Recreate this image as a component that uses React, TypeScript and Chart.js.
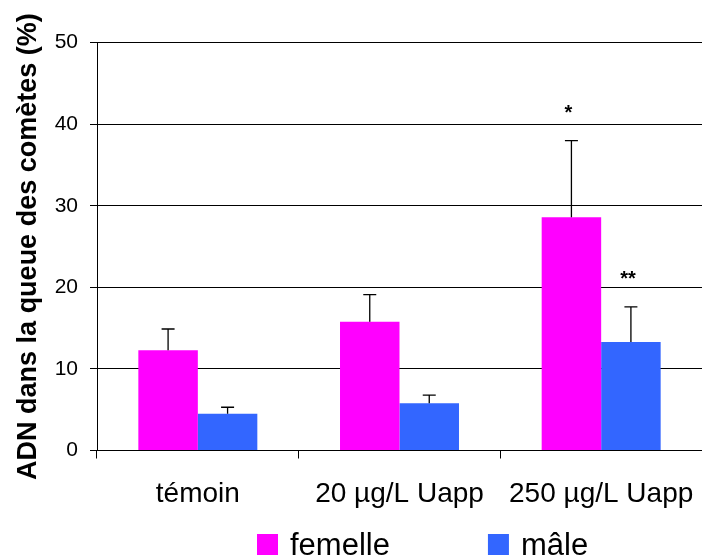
import React, { useEffect, useRef } from 'react';
import { Chart, registerables } from 'chart.js';

Chart.register(...registerables);

const categories = ['témoin', '20 µg/L Uapp', '250 µg/L Uapp'];
const seriesNames = ['femelle', 'mâle'];
const femelleValues = [12.3, 15.8, 28.6];
const maleValues = [4.5, 5.8, 13.3];
const femelleErrors = [2.6, 3.3, 9.4];
const maleErrors = [0.8, 1.0, 4.3];
const femelleSignif = ['', '', '*'];
const maleSignif = ['', '', '**'];
const yMin = 0;
const yMax = 50;
const yStep = 10;
const seriesColors = ['#FF00FF', '#3366FF'];

const FONT = "'Liberation Sans', Arial, Helvetica, sans-serif";

const errorsBySeries = [femelleErrors, maleErrors];
const signifBySeries = [femelleSignif, maleSignif];

const errorBarPlugin = {
  id: 'errorBars',
  afterDatasetsDraw(chart: any) {
    const ctx = chart.ctx;
    const yScale = chart.scales.y;
    ctx.save();
    chart.data.datasets.forEach((ds: any, d: number) => {
      const meta = chart.getDatasetMeta(d);
      const errs = errorsBySeries[d];
      const sig = signifBySeries[d];
      meta.data.forEach((bar: any, i: number) => {
        const v = ds.data[i];
        const top = yScale.getPixelForValue(v + errs[i]);
        ctx.strokeStyle = '#000';
        ctx.lineWidth = 1.3;
        ctx.beginPath();
        ctx.moveTo(bar.x, bar.y);
        ctx.lineTo(bar.x, top);
        ctx.moveTo(bar.x - 6.5, top);
        ctx.lineTo(bar.x + 6.5, top);
        ctx.stroke();
        if (sig[i]) {
          ctx.fillStyle = '#000';
          ctx.font = `bold 20px ${FONT}`;
          ctx.textAlign = 'center';
          ctx.textBaseline = 'alphabetic';
          ctx.fillText(sig[i], bar.x - 3, top - 22);
        }
      });
    });
    ctx.restore();
  },
};

const legendPlugin = {
  id: 'customLegend',
  afterDraw(chart: any) {
    const ctx = chart.ctx;
    const area = chart.chartArea;
    const box = 21;
    const gap = 12;
    const itemSpacing = 98;
    const baseY = area.bottom + 104.5;
    let x = area.left + 160;
    ctx.save();
    ctx.font = `31px ${FONT}`;
    ctx.textAlign = 'left';
    ctx.textBaseline = 'alphabetic';
    chart.data.datasets.forEach((ds: any) => {
      ctx.fillStyle = ds.backgroundColor;
      ctx.fillRect(x, baseY - box, box, box);
      ctx.fillStyle = '#000';
      ctx.fillText(ds.label, x + box + gap, baseY);
      x += box + gap + ctx.measureText(ds.label).width + itemSpacing;
    });
    ctx.restore();
  },
};

export default function App() {
  const canvasRef = useRef<HTMLCanvasElement | null>(null);

  useEffect(() => {
    const canvas = canvasRef.current;
    if (!canvas) return;
    const chart = new Chart(canvas, {
      type: 'bar',
      data: {
        labels: categories,
        datasets: [
          {
            label: seriesNames[0],
            data: femelleValues,
            backgroundColor: seriesColors[0],
            borderWidth: 0,
            barPercentage: 1,
            categoryPercentage: 0.59,
          },
          {
            label: seriesNames[1],
            data: maleValues,
            backgroundColor: seriesColors[1],
            borderWidth: 0,
            barPercentage: 1,
            categoryPercentage: 0.59,
          },
        ],
      },
      options: {
        responsive: false,
        devicePixelRatio: 1,
        animation: false,
        layout: { padding: { top: 42.7, right: 0, bottom: 40, left: 0 } },
        plugins: {
          legend: { display: false },
          tooltip: { enabled: false },
          title: { display: false },
        },
        scales: {
          x: {
            afterFit(scale: any) {
              scale.height = 68.5;
              scale.paddingLeft = 0;
              scale.paddingRight = 0;
            },
            grid: {
              display: true,
              drawOnChartArea: false,
              drawTicks: true,
              tickLength: 8,
              color: '#000',
              lineWidth: 1,
              offset: true,
            },
            border: { display: true, color: '#000', width: 1 },
            ticks: {
              color: '#000',
              font: { family: FONT, size: 28 },
              padding: 19,
              maxRotation: 0,
              autoSkip: false,
            },
          },
          y: {
            min: yMin,
            max: yMax,
            afterFit(scale: any) {
              scale.width = 97;
            },
            grid: {
              color: '#000',
              lineWidth: 1,
              drawTicks: true,
              tickLength: 7,
            },
            border: { display: true, color: '#000', width: 1 },
            ticks: {
              stepSize: yStep,
              color: '#000',
              font: { family: FONT, size: 21 },
              padding: 12,
            },
            title: {
              display: true,
              text: 'ADN dans la queue des comètes (%)',
              color: '#000',
              font: { family: FONT, size: 27, weight: 'bold' },
              padding: { top: 12, bottom: 0 },
            },
          },
        },
      },
      plugins: [errorBarPlugin, legendPlugin],
    });
    return () => chart.destroy();
  }, []);

  return (
    <div style={{ position: 'fixed', left: 0, top: 0, width: 702, height: 559, background: '#fff' }}>
      <canvas ref={canvasRef} width={702} height={559} style={{ display: 'block' }} />
    </div>
  );
}
